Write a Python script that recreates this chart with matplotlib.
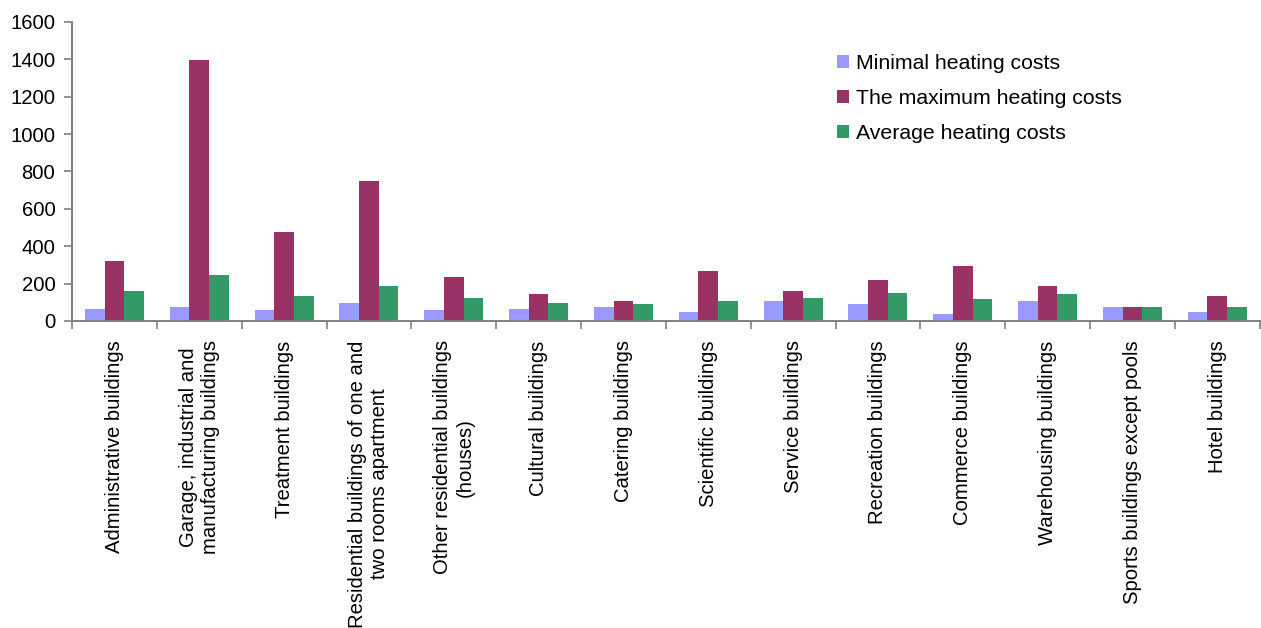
import matplotlib
matplotlib.use("Agg")
import matplotlib.pyplot as plt
import numpy as np

categories = [
    "Administrative buildings",
    "Garage, industrial and\nmanufacturing buildings",
    "Treatment buildings",
    "Residential buildings of one and\ntwo rooms apartment",
    "Other residential buildings\n(houses)",
    "Cultural buildings",
    "Catering buildings",
    "Scientific buildings",
    "Service buildings",
    "Recreation buildings",
    "Commerce buildings",
    "Warehousing buildings",
    "Sports buildings except pools",
    "Hotel buildings",
]
min_costs = [64, 75, 59, 97, 59, 64, 75, 48, 107, 91, 38, 107, 75, 48]
max_costs = [322, 1395, 478, 751, 236, 145, 107, 268, 161, 220, 295, 188, 75, 134]
avg_costs = [161, 247, 134, 188, 123, 97, 91, 107, 123, 150, 118, 145, 75, 75]
series_names = ["Minimal heating costs", "The maximum heating costs", "Average heating costs"]
y_ticks = [0, 200, 400, 600, 800, 1000, 1200, 1400, 1600]

COLORS = ["#9999FF", "#993366", "#339966"]
AXIS = "#808080"

plt.rcParams.update({"font.family": ["Liberation Sans", "DejaVu Sans"], "font.size": 14.6})
fig = plt.figure(figsize=(12.61, 6.28), dpi=100)
ax = fig.add_axes([0.0571, 0.489, 0.9419, 0.476])

x = np.arange(len(categories))
w = 0.232
for k, vals in enumerate([min_costs, max_costs, avg_costs]):
    ax.bar(x + (k - 1) * w, vals, width=w, color=COLORS[k], label=series_names[k], linewidth=0)

ax.set_xlim(-0.5, len(categories) - 0.5)
ax.set_ylim(0, 1600)
ax.set_yticks(y_ticks)
ax.set_xticks(x)
ax.set_xticklabels(categories, rotation=90, ha="center", va="top", multialignment="center")
# category separators drawn as minor ticks
ax.set_xticks(np.arange(len(categories) + 1) - 0.5, minor=True)
ax.tick_params(axis="x", which="major", length=0, pad=14)
ax.tick_params(axis="x", which="minor", length=6, width=1.2, color=AXIS, direction="out")
ax.tick_params(axis="y", length=6, width=1.2, color=AXIS, direction="out", pad=6)

for side in ("top", "right"):
    ax.spines[side].set_visible(False)
for side in ("left", "bottom"):
    ax.spines[side].set_color(AXIS)
    ax.spines[side].set_linewidth(1.4)

fig.legend(loc="upper left", bbox_to_anchor=(837 / 1261, 1 - 54 / 628), frameon=False,
           fontsize=15.3, handlelength=0.55, handleheight=0.55, handletextpad=0.35,
           labelspacing=0.76, borderpad=0, borderaxespad=0)

fig.savefig("out.png", dpi=100)
